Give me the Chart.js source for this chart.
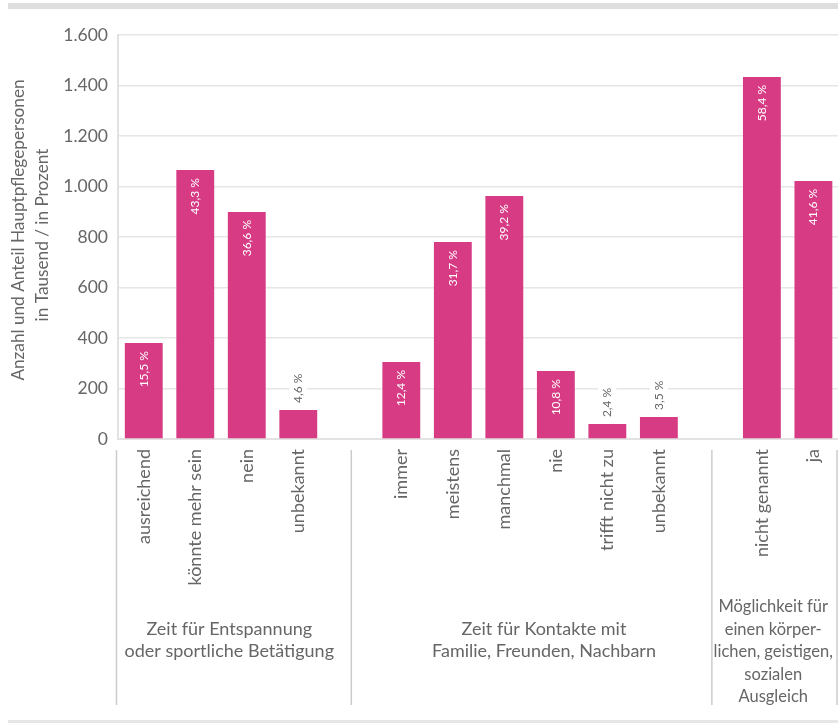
<!DOCTYPE html>
<html><head><meta charset="utf-8">
<script src="https://cdn.jsdelivr.net/npm/chart.js@4"></script>
<style>
html,body{margin:0;padding:0;background:#fff;overflow:hidden;width:838px;height:723px}
#wrap{position:absolute;left:0;top:0;width:845px;height:723px}
#topbar{position:absolute;left:8px;top:3px;width:830px;height:6px;background:#dedede}
#botbar{position:absolute;left:8px;top:720px;width:830px;height:3px;background:#e6e6e6}
</style></head><body>
<div id="wrap"><canvas id="c" width="845" height="723"></canvas></div>
<div id="topbar"></div><div id="botbar"></div>
<script>
const categories = ['ausreichend','könnte mehr sein','nein','unbekannt','',
  'immer','meistens','manchmal','nie','trifft nicht zu','unbekannt','',
  'nicht genannt','ja'];
const values = [380,1065,899,115,null,305,780,962,269,59,87,null,1434,1022];
const percentLabels = ['15,5 %','43,3 %','36,6 %','4,6 %','',
  '12,4 %','31,7 %','39,2 %','10,8 %','2,4 %','3,5 %','',
  '58,4 %','41,6 %'];
const groupLabels = [
  ['Zeit für Entspannung','oder sportliche Betätigung'],
  ['Zeit für Kontakte mit','Familie, Freunden, Nachbarn'],
  ['Möglichkeit für','einen körper-','lichen, geistigen,','sozialen','Ausgleich']
];
const yTitle = ['Anzahl und Anteil Hauptpflegepersonen','in Tausend / in Prozent'];
const yMax = 1600, yStep = 200;

const FONT = 'Lato, "Open Sans", sans-serif';
const GREY = '#666666';
const PINK = '#d63b84';

const groupPlugin = {
  id: 'groups',
  afterDatasetsDraw(chart) {
    const ctx = chart.ctx;
    const meta = chart.getDatasetMeta(0);
    meta.data.forEach((bar, i) => {
      if (values[i] == null) return;
      const h = bar.base - bar.y;
      ctx.save();
      ctx.translate(bar.x, bar.y);
      ctx.rotate(-Math.PI / 2);
      ctx.font = '12px ' + FONT;
      ctx.textBaseline = 'middle';
      const txt = percentLabels[i];
      if (h > 45) {
        ctx.fillStyle = '#ffffff';
        ctx.textAlign = 'right';
        ctx.fillText(txt, -8, 0);
      } else {
        const w = ctx.measureText(txt).width;
        ctx.fillStyle = '#ffffff';
        ctx.fillRect(4, -9, w + 6, 18);
        ctx.fillStyle = GREY;
        ctx.textAlign = 'left';
        ctx.fillText(txt, 7, 0);
      }
      ctx.restore();
    });
  },
  afterDraw(chart) {
    const ctx = chart.ctx;
    const x = chart.scales.x;
    const y = chart.scales.y;
    ctx.save();
    // y-axis title
    ctx.fillStyle = GREY;
    ctx.font = '17.2px ' + FONT;
    ctx.textAlign = 'center';
    ctx.textBaseline = 'middle';
    const midY = (y.top + y.bottom) / 2;
    [[18, midY - 7], [42, midY - 2]].forEach((p, k) => {
      ctx.save();
      ctx.translate(p[0], p[1]);
      ctx.rotate(-Math.PI / 2);
      ctx.fillText(yTitle[k], 0, 0);
      ctx.restore();
    });
    // group separators
    ctx.strokeStyle = '#cccccc';
    ctx.lineWidth = 1.5;
    const seps = [x.left - 1.5, x.getPixelForValue(4) + 1.5, x.getPixelForValue(11) + 1.5, 837];
    seps.forEach(px => {
      ctx.beginPath(); ctx.moveTo(px, 450); ctx.lineTo(px, 705); ctx.stroke();
    });
    // group labels
    const centers = [x.getPixelForValue(1.66), x.getPixelForValue(7.77), x.getPixelForValue(12.22)];
    const starts = [629, 629, 607];
    const sizes = [18, 18, 16.5];
    const lh = 22.5;
    groupLabels.forEach((lines, g) => {
      ctx.font = sizes[g] + 'px ' + FONT;
      lines.forEach((t, k) => ctx.fillText(t, centers[g], starts[g] + k * lh));
    });
    ctx.restore();
  }
};

new Chart(document.getElementById('c'), {
  type: 'bar',
  data: {
    labels: categories,
    datasets: [{ data: values, backgroundColor: PINK, barPercentage: 0.735, categoryPercentage: 1.0 }]
  },
  options: {
    responsive: false,
    animation: false,
    devicePixelRatio: 1,
    layout: { padding: { top: 35, left: 0, right: 0, bottom: 0 } },
    plugins: { legend: { display: false }, tooltip: { enabled: false } },
    scales: {
      x: {
        grid: { display: false, drawTicks: false },
        border: { color: '#e2e2e2', width: 2 },
        ticks: { autoSkip: false, minRotation: 90, maxRotation: 90, padding: 10,
                 color: GREY, font: { family: FONT, size: 18 } },
        afterFit(s) { s.height = 723 - 439; }
      },
      y: {
        min: 0, max: yMax,
        grid: { color: '#e6e6e6', lineWidth: 1.5, drawTicks: false },
        border: { color: '#e2e2e2', width: 2 },
        ticks: { stepSize: yStep, padding: 10, color: GREY, font: { family: FONT, size: 17.5 },
                 callback: v => v.toLocaleString('de-DE') },
        afterFit(s) { s.width = 118; }
      }
    }
  },
  plugins: [groupPlugin]
});
</script>
</body></html>
